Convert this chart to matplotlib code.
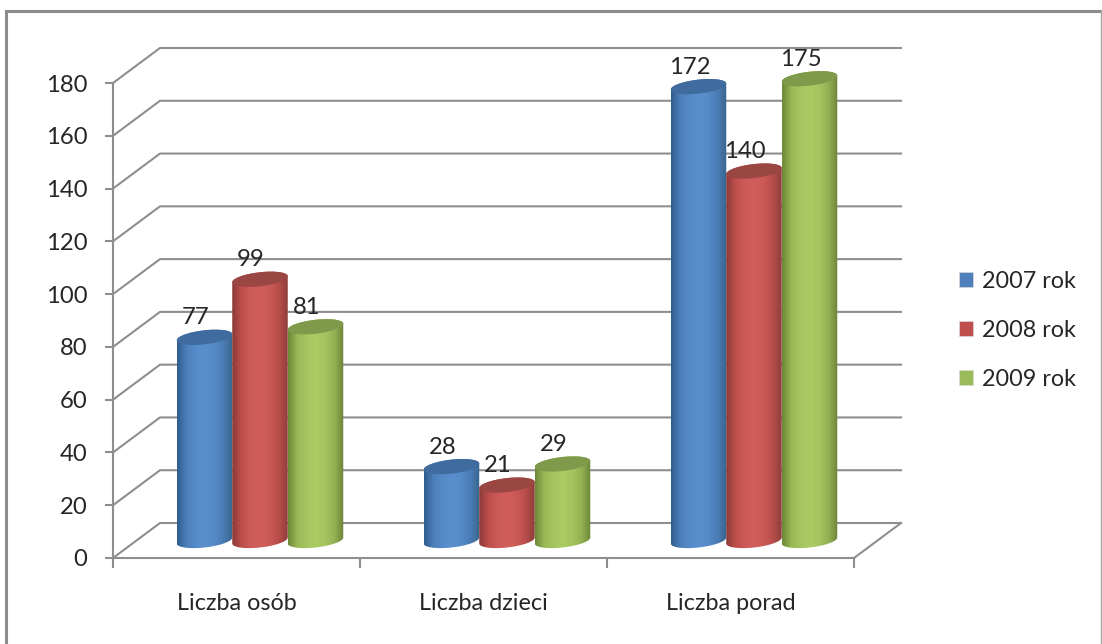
"""Liczba osob / dzieci / porad, 2007-2009: cylinders in a fake 3D box."""

import numpy as np
import matplotlib
matplotlib.use("Agg")
import matplotlib.pyplot as plt
from matplotlib.colors import LinearSegmentedColormap
from matplotlib.lines import Line2D
from matplotlib.patches import Patch, Polygon

plt.rcParams["font.family"] = ["Lato", "DejaVu Sans"]

categories = ["Liczba osób", "Liczba dzieci", "Liczba porad"]
years = ["2007 rok", "2008 rok", "2009 rok"]
values_2007 = [77, 28, 172]
values_2008 = [99, 21, 140]
values_2009 = [81, 29, 175]
y_ticks = [0, 20, 40, 60, 80, 100, 120, 140, 160, 180]

# cylinder shading left to right; top cap; legend square
shades = [
    (["#2f5c8f", "#4c7fb9", "#568bc9", "#5a8fce", "#568bc8", "#4a7cb5", "#38658f"], "#3f6b9e", "#4f81bd"),
    (["#8a3a38", "#bd4f4c", "#cc5a58", "#d15e5c", "#cb5a57", "#b84e4b", "#8f3f3c"], "#9a4643", "#c0504d"),
    (["#6c8838", "#98b856", "#a7c560", "#accb63", "#a6c45f", "#94b253", "#6a8438"], "#7f9a4a", "#9bbb59"),
]

GRID = "#8e8e8e"
PX_X, PX_Y = 247.0, 475 / 180  # pixels per category, pixels per unit
DEPTH_X, DEPTH_Y = 47 / PX_X, 35 / PX_Y  # back wall offset
BAR_W = 55.5 / PX_X
CAP_B, CAP_TILT = 7 / PX_Y, 3 / PX_Y


def ellipse_xy(cx, cy, t):
    return cx + BAR_W / 2 * np.cos(t), cy + CAP_B * np.sin(t) + CAP_TILT * np.cos(t)


def cylinder(ax, fig, cx, value, shade, order):
    colors, cap, _ = shade
    y0, y1 = DEPTH_Y / 2, DEPTH_Y / 2 + value
    # body: upper half of the top cap, then lower half of the bottom cap
    tx, ty = ellipse_xy(cx, y1, np.linspace(0, np.pi, 40))
    bx, by = ellipse_xy(cx, y0, np.linspace(np.pi, 2 * np.pi, 40))
    body = Polygon(np.c_[np.r_[tx, bx], np.r_[ty, by]], fc="none", ec="none",
                   transform=ax.transData)
    ax.add_patch(body)
    cmap = LinearSegmentedColormap.from_list("shade", colors)
    im = ax.imshow(np.linspace(0, 1, 128).reshape(1, -1), cmap=cmap, aspect="auto",
                   extent=(cx - BAR_W / 2, cx + BAR_W / 2, y0 - 5, y1 + 5), zorder=order)
    im.set_clip_path(body)
    im.set_clip_box(fig.bbox)
    # top cap
    ex, ey = ellipse_xy(cx, y1, np.linspace(0, 2 * np.pi, 80))
    ax.fill(ex, ey, color=cap, lw=0, zorder=order + 0.1, clip_on=False)


fig = plt.figure(figsize=(11.02, 6.44), dpi=100)
W, H = 1102, 644
ax = fig.add_axes([113 / W, 1 - 558 / H, 741 / W, 475 / H])
ax.patch.set_alpha(0)

# outer frame: no bottom edge in the picture
for xs, ys in [((5.5, 5.5), (10.5, 644)), ((5.5, 1101), (10.5, 10.5))]:
    fig.add_artist(Line2D([x / W for x in xs], [1 - y / H for y in ys], color="#8c8c8c", lw=2.2))
fig.add_artist(Line2D([1101 / W, 1101 / W], [1 - 10.5 / H, 0], color="#a8a8a8", lw=1.0))

# walls
for v in y_ticks:
    ax.plot([0, DEPTH_X, 3 + DEPTH_X], [v, v + DEPTH_Y, v + DEPTH_Y], color=GRID, lw=1.5,
            clip_on=False, zorder=1, solid_joinstyle="miter")
ax.plot([3, 3 + DEPTH_X], [0, DEPTH_Y], color=GRID, lw=1.5, clip_on=False, zorder=1)

# cylinders, left to right so each one sits over the previous
series = [values_2007, values_2008, values_2009]
for g in range(len(categories)):
    centre = g + 0.5 + DEPTH_X / 2
    for s, vals in enumerate(series):
        cx = centre + (s - 1) * BAR_W
        order = 3 + g + s * 0.2
        cylinder(ax, fig, cx, vals[g], shades[s], order)
        ax.annotate(str(vals[g]), (cx, vals[g] + DEPTH_Y / 2), xytext=(-6.5, 14),
                    textcoords="offset points", ha="center", va="center", fontsize=17.2,
                    color="#262626", zorder=10, annotation_clip=False)

ax.set_xlim(0, 3)
ax.set_ylim(0, 180)
ax.set_yticks(y_ticks)
ax.set_xticks([0, 1, 2, 3])
ax.set_xticklabels([])
ax.set_xticks([0.5, 1.5, 2.5], labels=categories, minor=True)
ax.tick_params(axis="x", which="major", length=7, width=1.5, color=GRID)
ax.tick_params(axis="x", which="minor", length=0, pad=25, labelsize=16.8, labelcolor="#262626")
ax.tick_params(axis="y", length=5.5, width=1.5, color=GRID, pad=13, labelsize=17.2, labelcolor="#262626")
for side in ("top", "right"):
    ax.spines[side].set_visible(False)
for side in ("left", "bottom"):
    ax.spines[side].set_color(GRID)
    ax.spines[side].set_linewidth(1.5)

handles = [Patch(fc=sh[2], ec="#d8d8d8", lw=0.5, label=y) for sh, y in zip(shades, years)]
fig.legend(handles=handles, loc="center left", bbox_to_anchor=(959 / W, 1 - 330.5 / H),
           frameon=False, fontsize=16.8, labelspacing=1.2, handlelength=0.62, handleheight=0.62,
           handletextpad=0.36, labelcolor="#262626", borderaxespad=0, borderpad=0)

fig.savefig("out.png", dpi=100)
